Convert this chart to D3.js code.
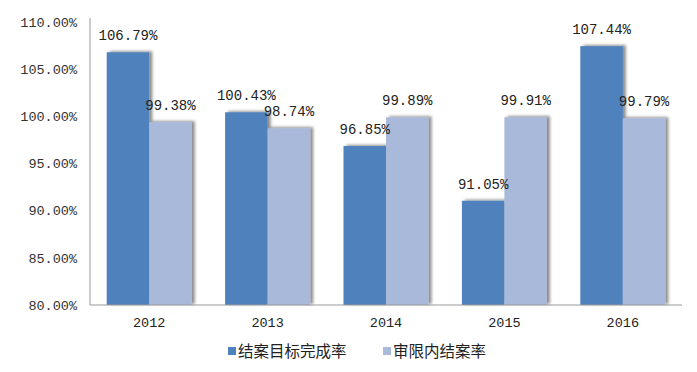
<!DOCTYPE html>
<html><head><meta charset="utf-8">
<script src="https://cdn.jsdelivr.net/npm/d3@7"></script>
<style>body{margin:0;background:#fff}svg{display:block}</style>
</head><body>
<svg id="c" width="697" height="372"></svg>
<script>
const years = ["2012","2013","2014","2015","2016"];
const seriesNames = ["结案目标完成率","审限内结案率"];
const completion = [106.79, 100.43, 96.85, 91.05, 107.44];
const withinLimit = [99.38, 98.74, 99.89, 99.91, 99.79];
const yTicks = [80,85,90,95,100,105,110];
const colors = ["#4F81BD","#A9B9D9"];

const svg = d3.select("#c");
const defs = svg.append("defs");
const f = defs.append("filter").attr("id","sh").attr("x","-20%").attr("y","-20%").attr("width","150%").attr("height","140%");
f.append("feDropShadow").attr("dx",3).attr("dy",-1).attr("stdDeviation",1.6).attr("flood-color","#000").attr("flood-opacity",0.45);

const x = d3.scaleBand().domain(years).range([90,682]);
const inner = d3.scaleBand().domain([0,1]).range([0, x.bandwidth()]).paddingOuter(0.393);
const y = d3.scaleLinear().domain([80,110]).range([305,22]);

const series = [completion, withinLimit];
const data = [];
years.forEach((yr,i)=>series.forEach((s,j)=>data.push({yr, j, v:s[i]})));

svg.append("g").selectAll("rect").data(data).join("rect")
  .attr("x", d=>x(d.yr)+inner(d.j))
  .attr("width", inner.bandwidth())
  .attr("y", d=>y(d.v))
  .attr("height", d=>y(80)-y(d.v))
  .attr("fill", d=>colors[d.j])
  .attr("filter","url(#sh)");

svg.append("g").selectAll("text").data(data).join("text")
  .attr("x", d=>x(d.yr)+inner(d.j)+inner.bandwidth()/2)
  .attr("y", d=>y(d.v)-12)
  .attr("text-anchor","middle")
  .attr("font-family","Liberation Mono, monospace")
  .attr("font-size",14)
  .attr("fill","#222")
  .text(d=>d.v.toFixed(2)+"%");

const yAxis = d3.axisLeft(y).tickValues(yTicks).tickSize(0).tickPadding(13).tickFormat(d=>d.toFixed(2)+"%");
const gy = svg.append("g").attr("transform","translate(90,0)").call(yAxis);
gy.select(".domain").attr("stroke","#999").attr("d","M0,18V305");
gy.selectAll("text").attr("font-family","Liberation Mono, monospace").attr("font-size",13.5).attr("fill","#333");

const xAxis = d3.axisBottom(x).tickSize(0).tickPadding(12);
const gx = svg.append("g").attr("transform","translate(0,305)").call(xAxis);
gx.select(".domain").attr("stroke","#999").attr("d","M90,0H682");
gx.selectAll("text").attr("font-family","Liberation Mono, monospace").attr("font-size",13.5).attr("fill","#222");

const legX = [228, 383];
const lg = svg.append("g");
seriesNames.forEach((n,i)=>{
  lg.append("rect").attr("x",legX[i]).attr("y",347).attr("width",8).attr("height",8).attr("fill",colors[i]);
  lg.append("text").attr("x",legX[i]+10).attr("y",357).attr("font-family","Noto Sans CJK SC").attr("font-size",15.5).attr("fill","#222").text(n);
});
</script>
</body></html>
